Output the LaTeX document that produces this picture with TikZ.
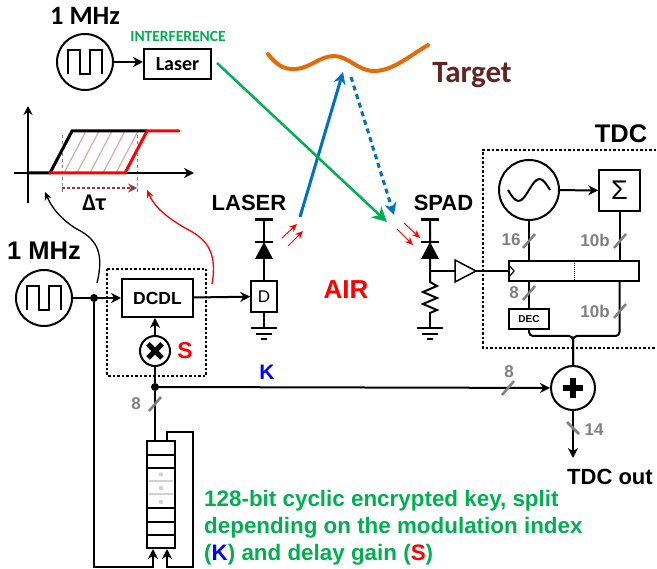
\documentclass[tikz,border=0pt]{standalone}
\usepackage{fontspec}
\setmainfont{Liberation Sans}
\newfontfamily\calibri{Carlito}
\usetikzlibrary{arrows.meta, positioning}

\definecolor{keygreen}{HTML}{00B050}
\definecolor{rayblue}{HTML}{0070C0}
\definecolor{targetorange}{HTML}{E36C0A}
\definecolor{targetbrown}{HTML}{632523}
\definecolor{hatchpink}{HTML}{DDB0A8}
\definecolor{deltabrown}{HTML}{943634}

\newcommand{\px}[1]{\fontsize{#1}{#1}\selectfont}

\tikzstyle{block} = [rectangle, draw=black, line width=2pt, inner sep=0pt, fill=white]
\tikzstyle{thinblock} = [rectangle, draw=black, line width=1.5pt, inner sep=0pt, fill=white]
\tikzstyle{ring} = [circle, draw=black, line width=2pt, inner sep=0pt, fill=white]
\tikzstyle{dot} = [circle, fill=black, inner sep=0pt, minimum size=8pt]
\tikzstyle{tag} = [inner sep=0pt, font=\bfseries\px{22}]
\tikzstyle{buswidth} = [inner sep=0pt, text=gray, font=\bfseries\px{17}]
\tikzstyle{wire} = [line width=2pt]
\tikzstyle{arrow} = [line width=2pt, -{Stealth[length=10pt, width=10pt]}]
\tikzstyle{photon} = [red, line width=1pt, -{Stealth[length=8pt, width=7pt]}]
\tikzstyle{scopedash} = [line width=1.3pt, dash pattern=on 2.5pt off 2pt]

% symbols
\newcommand{\buswidthmark}[2]{\draw [gray, line width=2.5pt] (#1-6,#2+7) -- (#1+6,#2-7);}
\newcommand{\groundsym}[1]{
  \draw [line width=2pt] (#1,312) -- (#1,328);
  \draw [line width=2pt] (#1-13,328) -- (#1+13,328);
  \draw [line width=2pt] (#1-8,334) -- (#1+8,334);
  \draw [line width=2pt] (#1-3,339) -- (#1+3,339);
}
\newcommand{\diodesym}[1]{
  \draw [line width=3pt] (#1-9,220) -- (#1+9,220);
  \draw [line width=2pt] (#1-9,242) -- (#1+9,242);
  \fill (#1,242) -- (#1+9,259) -- (#1-9,259) -- cycle;
}
\newcommand{\squarewave}[1]{
  \draw [line width=2pt, shift={(#1)}] (-17,12) -- (-17,-12) -- (-5,-12) -- (-5,12) -- (5,12) -- (5,-12) -- (17,-12) -- (17,12);
}

\begin{document}
\begin{tikzpicture}[x=1pt, y=-1pt, node distance=50pt]
\useasboundingbox (0,0) rectangle (657,569);

% Nodes
\node (clkTop) [ring, minimum size=56pt] at (85,62) {};
\node (laserTop) [block, minimum width=67pt, minimum height=30pt, font=\calibri\bfseries\px{20}, right of=clkTop, node distance=92.5pt, yshift=-2pt] {Laser};
\node (titleTop) [tag, font=\calibri\bfseries\px{26.5}] at (85,16) {1 MHz};
\node (interf) [tag, text=keygreen, font=\calibri\bfseries\px{15.5}] at (178,36) {INTERFERENCE};
\node (target) [tag, text=targetbrown, font=\calibri\bfseries\px{31}] at (472,75) {Target};

\node (clkLeft) [ring, minimum size=56pt] at (44,298) {};
\node (titleLeft) [tag, font=\bfseries\px{25.5}] at (44,251) {1 MHz};
\node (junc) [dot] at (94,298) {};
\node (dcdl) [block, minimum width=71pt, minimum height=38pt, font=\bfseries\px{17.5}] at (157.5,298) {DCDL};
\node (mult) [ring, minimum size=30pt] at (155,351) {};
\node (gainS) [tag, text=red, font=\bfseries\px{23}] at (185,351) {S};
\node (juncK) [dot] at (155,387) {};
\node (gainK) [tag, text=blue, font=\bfseries\px{21}] at (267,372) {K};
\node (flop) [thinblock, minimum width=26pt, minimum height=31pt, font=\px{17}] at (264,296.5) {D};
\node (laserName) [tag] at (249,203) {LASER};
\node (spadName) [tag] at (443.5,203) {SPAD};
\node (air) [tag, text=red, font=\bfseries\px{26}] at (346,290) {AIR};
\node (deltaT) [tag, font=\calibri\bfseries\px{24}] at (94,203) {Δτ};

\node (osc) [ring, minimum size=60pt] at (529,190) {};
\node (sigma) [thinblock, minimum width=41pt, minimum height=41pt, font=\px{27}] at (619.5,190.5) {Σ};
\node (tdcName) [tag, font=\bfseries\px{25.5}] at (621,134) {TDC};
\node (shift) [thinblock, minimum width=130pt, minimum height=20pt] at (574,271) {};
\node (dec) [thinblock, minimum width=40pt, minimum height=20pt, font=\bfseries\px{10}] at (529,319) {DEC};
\node (summer) [ring, minimum size=44pt] at (573,388) {};
\node (tdcOut) [tag] at (610,477) {TDC out};

\node (keyreg) [block, fill=none, minimum width=28pt, minimum height=107pt] at (161,494.5) {};
\node (keytext) [tag, anchor=north west, align=left, text=keygreen, font=\bfseries\px{22.4}] at (204,490) {128-bit cyclic encrypted key, split\\[4.4pt]depending on the modulation index\\[4.4pt](\textcolor{blue}{K}) and delay gain (\textcolor{red}{S})};

\node (w8a) [buswidth] at (136,404) {8};
\node (w8b) [buswidth] at (509,372) {8};
\node (w14) [buswidth] at (594,430) {14};
\node (w16) [buswidth] at (511,240) {16};
\node (w10a) [buswidth] at (595,240) {10b};
\node (w8c) [buswidth] at (514,293) {8};
\node (w10b) [buswidth] at (595,311) {10b};
\node (buf) [inner sep=0pt, minimum size=0pt] at (465,271) {};

% Timing plot
\begin{scope}
\clip (50,173) -- (72,131) -- (147,131) -- (125,173) -- cycle;
\foreach \h in {38,51,...,142}
  \draw [hatchpink, line width=1.3pt] (\h,173) -- (\h+22,131);
\end{scope}
\draw [gray, line width=1pt, dashed] (62,135) -- (62,193);
\draw [gray, line width=1pt, dashed] (137,135) -- (137,193);
\draw [line width=2pt, -{Stealth[length=9pt, width=9pt]}] (28,203) -- (28,106);
\draw [line width=2pt, -{Stealth[length=10pt, width=10pt]}] (14,173) -- (194,173);
\draw [line width=3pt] (28,173) -- (50,173) -- (72,131) -- (147,131);
\draw [red, line width=3pt, line cap=round] (50,173) -- (125,173) -- (147,131) -- (179,131);
\draw [deltabrown, line width=1.3pt, dash pattern=on 3pt off 2pt, -{Stealth[length=9pt, width=9pt]}] (62,188) -- (137,188);

% Symbols inside nodes
\squarewave{clkTop}
\squarewave{clkLeft}
\draw [line width=5pt] ([shift={(-7,-7)}]mult.center) -- ([shift={(7,7)}]mult.center);
\draw [line width=5pt] ([shift={(-7,7)}]mult.center) -- ([shift={(7,-7)}]mult.center);
\draw [line width=6pt] ([shift={(-10,0)}]summer.center) -- ([shift={(10,0)}]summer.center);
\draw [line width=6pt] ([shift={(0,-10)}]summer.center) -- ([shift={(0,10)}]summer.center);
\draw [line width=2pt, shift={(osc)}] (-21,0) sin (-10.5,11) cos (0,0) sin (10.5,-11) cos (21,0);

% Key register rows
\foreach \y in {455,468,508,522,535}
  \draw [line width=2pt] (keyreg.west |- 0,\y) -- (keyreg.east |- 0,\y);
\foreach \y in {481,494}
  \draw [black!18, line width=1.5pt] (149,\y) -- (173,\y);
\foreach \y in {474.5,488,502}
  \fill [black!18] (161,\y) circle (2.2);

% Target and rays
\draw [targetorange, line width=4pt, line cap=round] (268,54) .. controls (276,64) and (283,70) .. (296,69) .. controls (310,68) and (320,56) .. (334,56) .. controls (348,56) and (358,71) .. (374,71) .. controls (392,71) and (408,57) .. (428,45);
\coordinate (rayStart) at (300,217);
\coordinate (rayTop) at (343,72);
\coordinate (echoTop) at (351,77);
\coordinate (echoEnd) at (394,215);
\coordinate (interfEnd) at (387,222);
\draw [rayblue, line width=3pt, -{Stealth[length=12pt, width=12pt]}] (rayStart) -- (rayTop);
\draw [rayblue, line width=3pt, dash pattern=on 5pt off 4pt, -{Stealth[length=12pt, width=12pt]}] (echoTop) -- (echoEnd);
\draw [keygreen, line width=2.5pt, -{Stealth[length=15pt, width=15pt]}] (laserTop.east) ++(5,-1) -- (interfEnd);

% Dashed scopes
\draw [scopedash] (107,269) rectangle (206,376);
\draw [scopedash] (656,150) -- (483,150) -- (483,348) -- (656,348);

% Laser and SPAD
\diodesym{264}
\diodesym{430}
\draw [wire] (264,220) -- (flop.north);
\groundsym{264}
\groundsym{430}
\draw [photon] (282,238) -- (297,224);
\draw [photon] (288,246) -- (303,231);
\draw [photon] (404,223) -- (420,238);
\draw [photon] (397,229) -- (413,245);
\draw [wire] (430,220) -- (430,282) -- (437,286) -- (423,292) -- (437,298) -- (423,304) -- (437,310) -- (430,313);
\draw [wire] (430,271) -- (buf);
\draw [line width=1.5pt, fill=white] (455,260) -- (476,271) -- (455,282) -- cycle;
\draw [wire] (476,271) -- (shift.west);
\draw [line width=1.2pt] (509,265) -- (514,271) -- (509,277);
\draw [line width=1pt, densely dotted] (574,261) -- (574,281);

% Arrows
\draw [arrow] (clkTop) -- (clkTop -| laserTop.west);
\draw [arrow] (clkLeft) -- (dcdl);
\draw [arrow] (dcdl) -- (flop);
\draw [arrow] (mult) -- (mult |- dcdl.south);
\draw [wire] (mult) -- (juncK);
\draw [wire] (juncK) -- (juncK |- keyreg.north);
\draw [arrow] (juncK) -- (summer);
\draw [arrow] (junc) -- (junc |- 0,567) -| (keyreg.south -| 153,0);
\draw [arrow] (193,567) -- (167,567) -- (keyreg.south -| 167,0);
\draw [wire] (193,568) -- (193,432) -- (167,432) -- (keyreg.north -| 167,0);
\draw [arrow] (osc) -- (sigma);
\draw [wire] (osc) -- (osc |- shift.north);
\draw [wire] (sigma) -- (sigma |- shift.north);
\draw [wire] (osc |- shift.south) -- (dec.north);
\draw [wire, rounded corners=4pt] (dec.south) |- (summer |- 0,336) -- (summer);
\draw [wire, rounded corners=4pt] (sigma |- shift.south) |- (summer |- 0,336) -- (summer);
\draw [arrow] (summer) -- (summer |- 0,458);

% Feedback curves
\draw [line width=1.3pt, -{Stealth[length=8pt, width=7pt]}] (97,283) .. controls (105,250) and (95,238) .. (75,228) .. controls (60,218) and (52,208) .. (45,192);
\draw [red, line width=1.3pt, -{Stealth[length=8pt, width=7pt]}] (212,284) .. controls (218,250) and (205,238) .. (185,228) .. controls (168,218) and (155,208) .. (147,190);

% Bus marks
\buswidthmark{155}{404}
\buswidthmark{508}{388}
\draw [gray, line width=2.5pt] (567,422) -- (579,434);
\buswidthmark{529}{241}
\buswidthmark{620}{241}
\buswidthmark{529}{293}
\buswidthmark{620}{311}

\end{tikzpicture}
\end{document}
